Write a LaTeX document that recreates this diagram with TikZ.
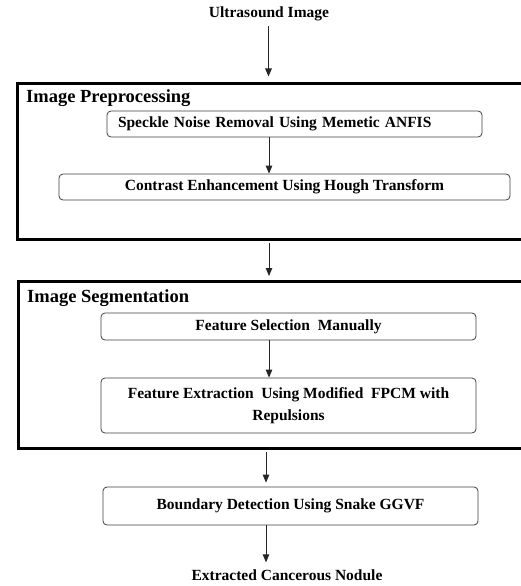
\documentclass[tikz,border=0pt]{standalone}
\usepackage{fontspec}
\setmainfont{Liberation Serif}
\usetikzlibrary{arrows.meta}
\begin{document}
\begin{tikzpicture}[x=1pt,y=-1pt,
  lbl/.style={font=\fontsize{15.5}{22}\selectfont\bfseries, inner sep=0pt},
  ttl/.style={font=\fontsize{18.5}{22}\selectfont\bfseries, inner sep=0pt, anchor=west},
  stage/.style={draw=black, line width=3pt, inner sep=0pt, anchor=north west},
  stepbox/.style={draw=black!75, line width=0.8pt, rounded corners=4pt, inner sep=0pt,
    font=\fontsize{15.5}{22}\selectfont\bfseries, align=center},
  flow/.style={-{Triangle[length=8pt,width=6.5pt]}, line width=0.9pt, draw=black!85}
]
\clip (0,0) rectangle (521,586);
\fill[white] (0,0) rectangle (521,586);

% vertical spines of the flow
\coordinate (spineA) at (268.5,0);
\coordinate (spineB) at (269,0);
\coordinate (spineC) at (266,0);

% input
\node[lbl] (us) at (269,14) {Ultrasound Image};

% stage 1: preprocessing
\node[stage, minimum width=530pt, minimum height=156.5pt] (pre) at (15.5,81.5) {};
\node[ttl] (preT) at (26,98) {Image Preprocessing};
\node[stepbox, minimum width=375pt, minimum height=26pt, text width=353pt,
      inner xsep=11pt, align=left] (speckle) at (294.5,124)
      {Speckle Noise Removal Using Memetic ANFIS};
\node[stepbox, minimum width=451pt, minimum height=26pt] (contrast) at (284.5,187)
      {Contrast Enhancement Using Hough Transform};

% stage 2: segmentation
\node[stage, minimum width=530pt, minimum height=167pt] (seg) at (16.5,280) {};
\node[ttl] (segT) at (27,298) {Image Segmentation};
\node[stepbox, minimum width=375pt, minimum height=27pt] (select) at (288.5,326.5)
      {Feature Selection\ \ Manually};
\node[stepbox, minimum width=375pt, minimum height=55pt] (extract) at (288.5,405.5)
      {Feature Extraction\ \ Using Modified\ \ FPCM with\\Repulsions};

% final steps
\node[stepbox, minimum width=375pt, minimum height=38pt] (boundary) at (290.5,506)
      {Boundary Detection Using Snake GGVF};
\node[lbl] (nodule) at (287,575) {Extracted Cancerous Nodule};

% connectors (yshift is in page units: positive moves up)
\draw[flow, line width=1.3pt] ([yshift=-5pt]us.south -| spineA) -- ([yshift=5pt]pre.north -| spineA);
\draw[flow] (speckle.south -| spineB) -- (contrast.north -| spineB);
\draw[flow] ([yshift=-1.5pt]pre.south -| spineB) -- ([yshift=4pt]seg.north -| spineB);
\draw[flow] (select.south -| spineB) -- (extract.north -| spineB);
\draw[flow] ([yshift=-1.5pt]seg.south -| spineC) -- ([yshift=4pt]boundary.north -| spineC);
\draw[flow] (boundary.south -| spineC) -- ([yshift=7pt]nodule.north -| spineC);
\end{tikzpicture}
\end{document}
